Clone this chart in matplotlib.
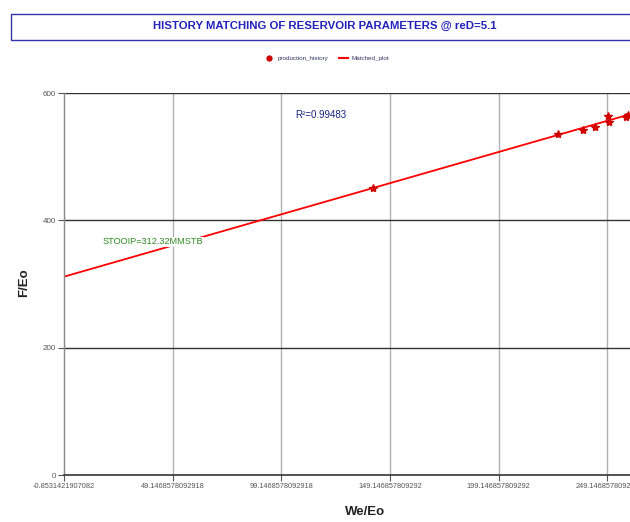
import matplotlib
matplotlib.use("Agg")
import matplotlib.pyplot as plt
from matplotlib.patches import Rectangle
from matplotlib.lines import Line2D

plt.rcParams['font.family'] = ['Liberation Sans', 'DejaVu Sans']

# Data
history_x = [141.5, 226.4, 237.9, 243.4, 249.4, 249.8, 257.7, 258.6]
history_y = [450.8, 535.6, 541.9, 546.6, 563.9, 554.4, 562.3, 565.0]
matched_x = [-0.8531421907082, 262.0]
matched_y = [311.5, 569.0]
xticks = [-0.8531421907082, 49.1468578092918, 99.1468578092918, 149.146857809292, 199.146857809292, 249.146857809292]
xtick_labels = ["-0.8531421907082", "49.1468578092918", "99.1468578092918", "149.146857809292", "199.146857809292", "249.146857809292"]
yticks = [0, 200, 400, 600]

fig = plt.figure(figsize=(6.3, 5.22), dpi=100)
ax = fig.add_axes([64/630, 1-475/522, 1-64/630, (475-93)/522])

ax.set_xlim(-0.8531421907082, 259.5)
ax.set_ylim(0, 600)

for xt in xticks[1:]:
    ax.axvline(xt, color='#b0b0b0', lw=1.0, zorder=0)
for yt in yticks[1:]:
    ax.axhline(yt, color='#333333', lw=1.0, zorder=0)

ax.plot(matched_x, matched_y, color='#ff0000', lw=1.3, zorder=2)
ax.plot(history_x, history_y, linestyle='none', marker='*', ms=6, color='#dd0000',
        markeredgecolor='#cc0000', zorder=3)

ax.set_xticks(xticks)
ax.set_xticklabels(xtick_labels, fontsize=5.3, color='#555555')
ax.set_yticks(yticks)
ax.set_yticklabels([str(v) for v in yticks], fontsize=5.8, color='#555555')
ax.tick_params(axis='both', length=4, width=0.8, color='#555555', pad=2)

for s in ['top', 'right']:
    ax.spines[s].set_visible(False)
ax.spines['left'].set_color('#888888')
ax.spines['bottom'].set_color('#333333')
ax.spines['left'].set_linewidth(1.0)
ax.spines['bottom'].set_linewidth(1.2)

fig.text(365/630, 1-512/522, 'We/Eo', fontsize=9.5, fontweight='bold', color='#222222',
         ha='center', va='center')
fig.text(24/630, 1-283/522, 'F/Eo', fontsize=9.5, fontweight='bold', color='#222222',
         ha='center', va='center', rotation=90)

ax.text(105.7, 565, 'R²=0.99483', fontsize=7, color='#1a237e', va='center', ha='left')
ax.text(17.0, 366, 'STOOIP=312.32MMSTB', fontsize=6.6, color='#2e8b22', va='center', ha='left',
        bbox=dict(facecolor='white', edgecolor='none', pad=0.5), zorder=4)

# Title box
fig.patches.append(Rectangle((11/630, 1-40/522), 1.0, 26/522, transform=fig.transFigure,
                             facecolor='white', edgecolor='#3333aa', lw=1.0))
fig.text(325/630, 1-26/522, 'HISTORY MATCHING OF RESERVOIR PARAMETERS @ reD=5.1',
         ha='center', va='center', fontsize=8.2, fontweight='bold', color='#2222bb')

handles = [Line2D([], [], linestyle='none', marker='o', ms=3.5, color='#cc0000'),
           Line2D([], [], color='#ff0000', lw=1.5)]
fig.legend(handles, ['production_history', 'Matched_plot'], loc='center',
           bbox_to_anchor=(327/630, 1-58/522), ncol=2, frameon=False, fontsize=4.5,
           labelcolor='#333366', handlelength=1.4, columnspacing=1.8, handletextpad=0.6)

fig.savefig('out.png', dpi=100)
